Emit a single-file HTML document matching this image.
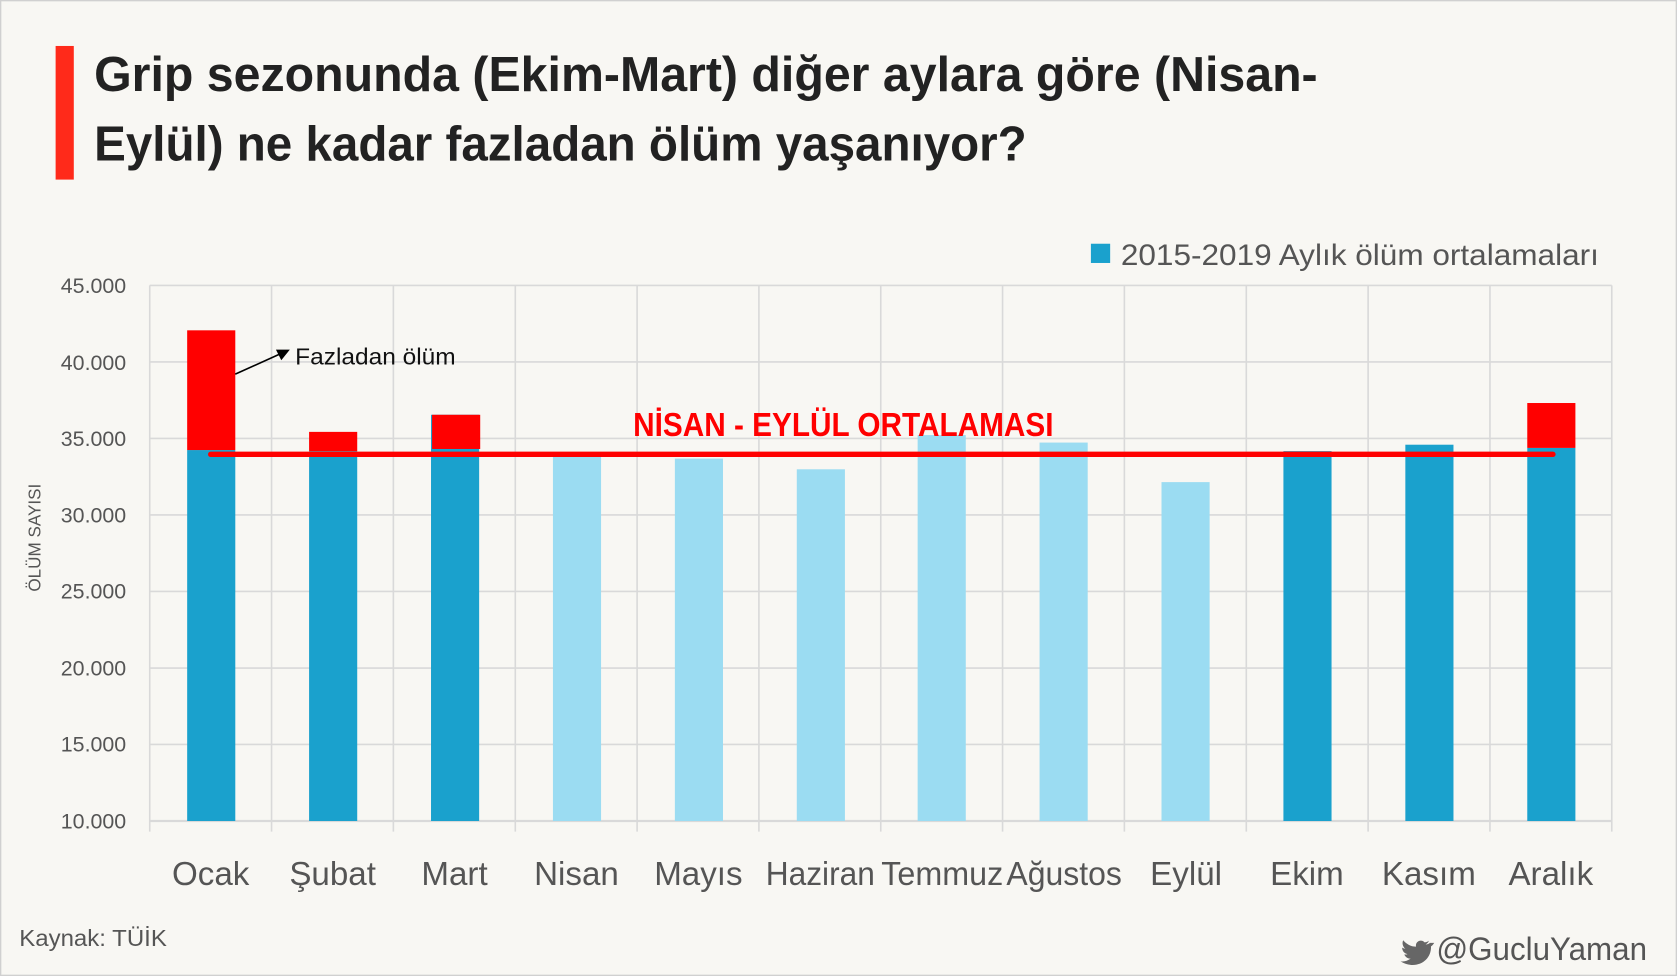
<!DOCTYPE html>
<html><head><meta charset="utf-8"><style>
html,body{margin:0;padding:0;background:#f8f7f3;}
svg{display:block;}
text{font-family:"Liberation Sans Narrow","Liberation Sans","DejaVu Sans",sans-serif;}
</style></head><body>
<svg width="1677" height="976" viewBox="0 0 1568 913" preserveAspectRatio="none" xmlns="http://www.w3.org/2000/svg">
<rect x="0.5" y="0.5" width="1567" height="912" fill="#f8f7f3" stroke="#d0d0d0" stroke-width="1.5"/>
<rect x="52" y="43" width="17" height="125" fill="#ff2a1a"/>
<text x="88" y="85" font-size="46" font-weight="bold" fill="#222" textLength="1144" lengthAdjust="spacingAndGlyphs">Grip sezonunda (Ekim-Mart) diğer aylara göre (Nisan-</text>
<text x="88" y="150" font-size="46" font-weight="bold" fill="#222" textLength="872" lengthAdjust="spacingAndGlyphs">Eylül) ne kadar fazladan ölüm yaşanıyor?</text>
<rect x="1020" y="228" width="18" height="18" fill="#1aa1cd"/>
<text x="1048" y="248" font-size="28" fill="#555" textLength="447" lengthAdjust="spacingAndGlyphs">2015-2019 Aylık ölüm ortalamaları</text>
<g stroke="#d9d9d9" stroke-width="1.5">
<line x1="140" y1="267" x2="1507" y2="267"/>
<line x1="140" y1="338.6" x2="1507" y2="338.6"/>
<line x1="140" y1="410.1" x2="1507" y2="410.1"/>
<line x1="140" y1="481.7" x2="1507" y2="481.7"/>
<line x1="140" y1="553.3" x2="1507" y2="553.3"/>
<line x1="140" y1="624.9" x2="1507" y2="624.9"/>
<line x1="140" y1="696.4" x2="1507" y2="696.4"/>
<line x1="140" y1="768" x2="1507" y2="768" stroke-width="2"/>
<line x1="140" y1="267" x2="140" y2="778"/>
<line x1="253.9" y1="267" x2="253.9" y2="778"/>
<line x1="367.8" y1="267" x2="367.8" y2="778"/>
<line x1="481.8" y1="267" x2="481.8" y2="778"/>
<line x1="595.7" y1="267" x2="595.7" y2="778"/>
<line x1="709.6" y1="267" x2="709.6" y2="778"/>
<line x1="823.5" y1="267" x2="823.5" y2="778"/>
<line x1="937.4" y1="267" x2="937.4" y2="778"/>
<line x1="1051.3" y1="267" x2="1051.3" y2="778"/>
<line x1="1165.3" y1="267" x2="1165.3" y2="778"/>
<line x1="1279.2" y1="267" x2="1279.2" y2="778"/>
<line x1="1393.1" y1="267" x2="1393.1" y2="778"/>
<line x1="1507" y1="267" x2="1507" y2="778"/>
</g>
<g font-size="20" fill="#555" text-anchor="end">
<text x="118" y="274">45.000</text><text x="118" y="346">40.000</text><text x="118" y="417">35.000</text>
<text x="118" y="489">30.000</text><text x="118" y="560">25.000</text><text x="118" y="632">20.000</text>
<text x="118" y="703">15.000</text><text x="118" y="775">10.000</text>
</g>
<text transform="translate(38,503) rotate(-90)" font-size="16" fill="#555" text-anchor="middle">ÖLÜM SAYISI</text>
<g>
<rect x="175" y="421" width="45" height="347" fill="#1aa1cd"/>
<rect x="289" y="422" width="45" height="346" fill="#1aa1cd"/>
<rect x="403" y="388" width="45" height="380" fill="#1aa1cd"/>
<rect x="517" y="423" width="45" height="345" fill="#9bdcf2"/>
<rect x="631" y="429" width="45" height="339" fill="#9bdcf2"/>
<rect x="745" y="439" width="45" height="329" fill="#9bdcf2"/>
<rect x="858" y="407" width="45" height="361" fill="#9bdcf2"/>
<rect x="972" y="414" width="45" height="354" fill="#9bdcf2"/>
<rect x="1086" y="451" width="45" height="317" fill="#9bdcf2"/>
<rect x="1200" y="422" width="45" height="346" fill="#1aa1cd"/>
<rect x="1314" y="416" width="45" height="352" fill="#1aa1cd"/>
<rect x="1428" y="419" width="45" height="349" fill="#1aa1cd"/>
<rect x="175" y="309" width="45" height="112" fill="#ff0000"/>
<rect x="289" y="404" width="45" height="18" fill="#ff0000"/>
<rect x="404" y="388" width="45" height="32" fill="#ff0000"/>
<rect x="1428" y="377" width="45" height="42" fill="#ff0000"/>
</g>
<line x1="197" y1="425" x2="1452" y2="425" stroke="#ff0000" stroke-width="5" stroke-linecap="round"/>
<text x="592" y="408" font-size="31" font-weight="bold" fill="#ff0000" textLength="393" lengthAdjust="spacingAndGlyphs">NİSAN - EYLÜL ORTALAMASI</text>
<line x1="220" y1="350" x2="262" y2="331" stroke="#000" stroke-width="1.5"/>
<polygon points="271,327 258,327 263,337" fill="#000"/>
<text x="276" y="341" font-size="22" fill="#111" textLength="150" lengthAdjust="spacingAndGlyphs">Fazladan ölüm</text>
<g font-size="31" fill="#555" text-anchor="middle">
<text x="197" y="828">Ocak</text><text x="311" y="828">Şubat</text><text x="425" y="828">Mart</text>
<text x="539" y="828">Nisan</text><text x="653" y="828">Mayıs</text><text x="767" y="828" textLength="102" lengthAdjust="spacingAndGlyphs">Haziran</text>
<text x="881" y="828" textLength="114" lengthAdjust="spacingAndGlyphs">Temmuz</text><text x="995" y="828" textLength="108" lengthAdjust="spacingAndGlyphs">Ağustos</text><text x="1109" y="828">Eylül</text>
<text x="1222" y="828">Ekim</text><text x="1336" y="828">Kasım</text><text x="1450" y="828">Aralık</text>
</g>
<text x="18" y="885" font-size="22" fill="#555" textLength="138" lengthAdjust="spacingAndGlyphs">Kaynak: TÜİK</text>
<path d="M1337,882 c-1,1 -3,1.5 -4,1.5 c1.5,-1 2.5,-2 3,-3.5 c-1.5,1 -3,1.5 -4,1.5 c-3,-3.5 -9,-1 -8,4 c-5,0 -9,-2.5 -12,-6 c-1.5,3 0,6.5 2,8 c-1,0 -2,-0.5 -3,-1 c0,3 2,5.5 5,6 c-1,0.5 -2,0.5 -3,0.3 c1,2.5 3,4 6,4 c-3,2 -6,3 -9.5,2.5 c14,8.5 29,0 28.5,-14 c1.2,-0.8 2.2,-2 3,-3.3z" fill="#666"/>
<text x="1343" y="898" font-size="30" fill="#555" textLength="197" lengthAdjust="spacingAndGlyphs">@GucluYaman</text>
</svg>
</body></html>
